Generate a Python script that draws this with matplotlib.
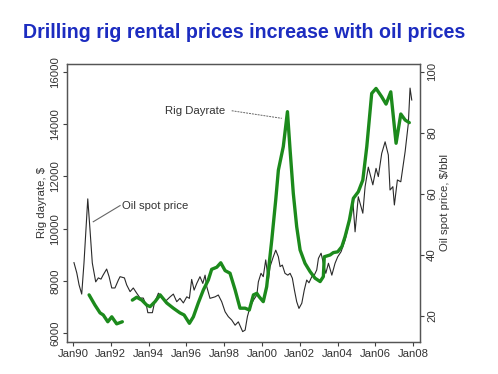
import numpy as np
import matplotlib
matplotlib.use("Agg")
import matplotlib.pyplot as plt

plt.rcParams['font.family'] = ['Liberation Sans', 'DejaVu Sans']

# Rig dayrate ($/day), left axis; two segments with a gap in 1992-93
rig_year1 = [1990.85, 1991.16, 1991.43, 1991.60, 1991.84, 1992.05, 1992.31, 1992.61]
rig_rate1 = [7460, 7070, 6770, 6690, 6430, 6620, 6350, 6430]

rig_year2 = [1993.14, 1993.37, 1993.64, 1993.90, 1994.08, 1994.34, 1994.61, 1994.96,
             1995.31, 1995.66, 1995.88, 1996.16, 1996.37, 1996.63, 1996.90, 1997.16,
             1997.34, 1997.61, 1997.82, 1998.05, 1998.31, 1998.58, 1998.84, 1999.11,
             1999.33, 1999.55, 1999.73, 1999.85, 2000.07, 2000.25, 2000.52, 2000.73,
             2000.87, 2001.13, 2001.35, 2001.49, 2001.66, 2001.84, 2002.02, 2002.28,
             2002.55, 2002.81, 2003.08, 2003.25, 2003.30, 2003.61, 2003.78, 2004.01,
             2004.23, 2004.40, 2004.63, 2004.84, 2005.10, 2005.34, 2005.55, 2005.81,
             2006.04, 2006.34, 2006.57, 2006.82, 2007.10, 2007.35, 2007.58, 2007.80]
rig_rate2 = [7260, 7370, 7260, 7070, 7010, 7200, 7460, 7150,
             6950, 6770, 6690, 6370, 6620, 7150, 7650, 8030,
             8440, 8520, 8690, 8390, 8290, 7650, 6950, 6950,
             6880, 7460, 7520, 7390, 7200, 7770, 9560, 11100,
             12240, 13140, 14480, 13010, 11350, 10070, 9180, 8670,
             8350, 8100, 7970, 8160, 8920, 8990, 9080, 9110,
             9310, 9690, 10330, 11160, 11410, 11860, 13140, 15180,
             15370, 15050, 14770, 15240, 13270, 14390, 14160, 14060]

# Oil spot price ($/bbl), right axis
oil_year = [1990.05, 1990.20, 1990.32, 1990.46, 1990.58, 1990.78, 1990.90, 1991.02,
            1991.20, 1991.34, 1991.48, 1991.59, 1991.78, 1991.91, 1992.05, 1992.22,
            1992.40, 1992.49, 1992.72, 1992.84, 1993.02, 1993.19, 1993.37, 1993.55,
            1993.72, 1993.90, 1993.96, 1994.20, 1994.31, 1994.52, 1994.70, 1994.87,
            1995.14, 1995.31, 1995.49, 1995.66, 1995.84, 1996.02, 1996.16, 1996.28,
            1996.41, 1996.55, 1996.72, 1996.87, 1996.99, 1997.08, 1997.25, 1997.52,
            1997.69, 1997.87, 1998.05, 1998.22, 1998.40, 1998.58, 1998.75, 1998.98,
            1999.11, 1999.23, 1999.37, 1999.55, 1999.73, 1999.81, 1999.95, 2000.07,
            2000.20, 2000.34, 2000.43, 2000.60, 2000.73, 2000.87, 2000.96, 2001.08,
            2001.22, 2001.37, 2001.49, 2001.61, 2001.72, 2001.84, 2001.96, 2002.11,
            2002.24, 2002.37, 2002.49, 2002.64, 2002.77, 2002.90, 2002.99, 2003.13,
            2003.25, 2003.38, 2003.52, 2003.70, 2003.87, 2004.01, 2004.19, 2004.40,
            2004.63, 2004.81, 2004.93, 2005.10, 2005.34, 2005.46, 2005.63, 2005.87,
            2006.04, 2006.16, 2006.34, 2006.52, 2006.69, 2006.78, 2006.93, 2007.01,
            2007.17, 2007.35, 2007.58, 2007.75, 2007.84, 2007.93]
oil_price = [37.5, 34.1, 30.2, 27.2, 37.4, 58.4, 48.2, 37.4,
             31.2, 32.5, 32.1, 33.4, 35.4, 32.9, 29.2, 29.2,
             31.8, 32.9, 32.5, 30.2, 28.0, 29.2, 27.5, 25.9,
             25.9, 23.0, 21.1, 21.1, 24.3, 27.5, 25.9, 24.7,
             26.3, 27.2, 24.7, 25.8, 24.3, 26.3, 25.8, 32.0,
             28.5, 30.7, 32.9, 30.7, 33.4, 29.6, 25.8, 26.3,
             26.9, 24.7, 21.4, 19.8, 18.7, 17.0, 18.1, 14.9,
             15.4, 19.8, 23.0, 25.2, 26.9, 31.2, 34.0, 32.9,
             38.4, 31.8, 36.2, 39.4, 41.6, 39.4, 36.2, 36.7,
             34.0, 33.4, 34.0, 32.4, 28.5, 24.7, 22.5, 24.2,
             28.5, 31.8, 30.9, 32.9, 33.4, 35.1, 38.9, 40.6,
             37.3, 34.0, 37.3, 33.4, 37.3, 39.4, 41.1, 44.9,
             50.9, 58.0, 47.6, 59.1, 53.7, 62.4, 68.8, 63.0,
             68.4, 65.7, 73.3, 77.1, 72.8, 61.3, 62.4, 56.4,
             64.6, 64.0, 73.9, 83.2, 94.7, 90.8]

xtick_years = [1990, 1992, 1994, 1996, 1998, 2000, 2002, 2004, 2006, 2008]
xtick_labels = ["Jan90", "Jan92", "Jan94", "Jan96", "Jan98",
                "Jan00", "Jan02", "Jan04", "Jan06", "Jan08"]
left_ticks = [6000, 8000, 10000, 12000, 14000, 16000]
right_ticks = [20, 40, 60, 80, 100]

green = "#1c8a1c"
grey = "#404040"

fig = plt.figure(figsize=(4.98, 3.74), dpi=100)
ax = fig.add_axes([0.1345, 0.0856, 0.709, 0.7433])
ax2 = ax.twinx()

ax.plot(rig_year1, rig_rate1, color=green, linewidth=2.4, solid_capstyle="round")
ax.plot(rig_year2, rig_rate2, color=green, linewidth=2.4, solid_capstyle="round")
ax2.plot(oil_year, oil_price, color="#2a2a2a", linewidth=0.8)
ax.set_zorder(ax2.get_zorder() + 1)
ax.patch.set_visible(False)

ax.set_xlim(1989.68, 2008.37)
ax.set_ylim(5655, 16307)
ax2.set_ylim(11.5, 102.6)

ax.set_xticks(xtick_years)
ax.set_xticklabels(xtick_labels)
ax.set_yticks(left_ticks)
ax.set_yticklabels([str(t) for t in left_ticks], rotation=90, va="center")
ax2.set_yticks(right_ticks)
ax2.set_yticklabels([str(t) for t in right_ticks], rotation=90, va="center")

for a in (ax, ax2):
    a.tick_params(colors=grey, labelcolor="#333333", labelsize=8.2, length=3,
                  width=0.8, pad=2)
    for s in a.spines.values():
        s.set_color("#555555")
        s.set_linewidth(0.9)

ax.set_ylabel("Rig dayrate, $", fontsize=8.2, color="#333333", labelpad=2)
ax2.set_ylabel("Oil spot price, $/bbl", fontsize=8.2, color="#333333", labelpad=2)

# annotations
ax.text(1994.87, 14505, "Rig Dayrate", fontsize=8.2, color="#333333", va="center")
ax.plot([1998.40, 2001.05], [14516, 14225], color="#666666", linewidth=0.7,
        linestyle=(0, (2, 1)))
ax2.text(1992.58, 56.2, "Oil spot price", fontsize=8.2, color="#333333", va="center")
ax2.plot([1992.49, 1991.07], [56.2, 50.9], color="#666666", linewidth=0.8)

fig.text(0.046, 0.899, "Drilling rig rental prices increase with oil prices",
         fontsize=14.1, fontweight="bold", color="#1c2cc0", va="baseline")

fig.savefig("out.png", dpi=100)
